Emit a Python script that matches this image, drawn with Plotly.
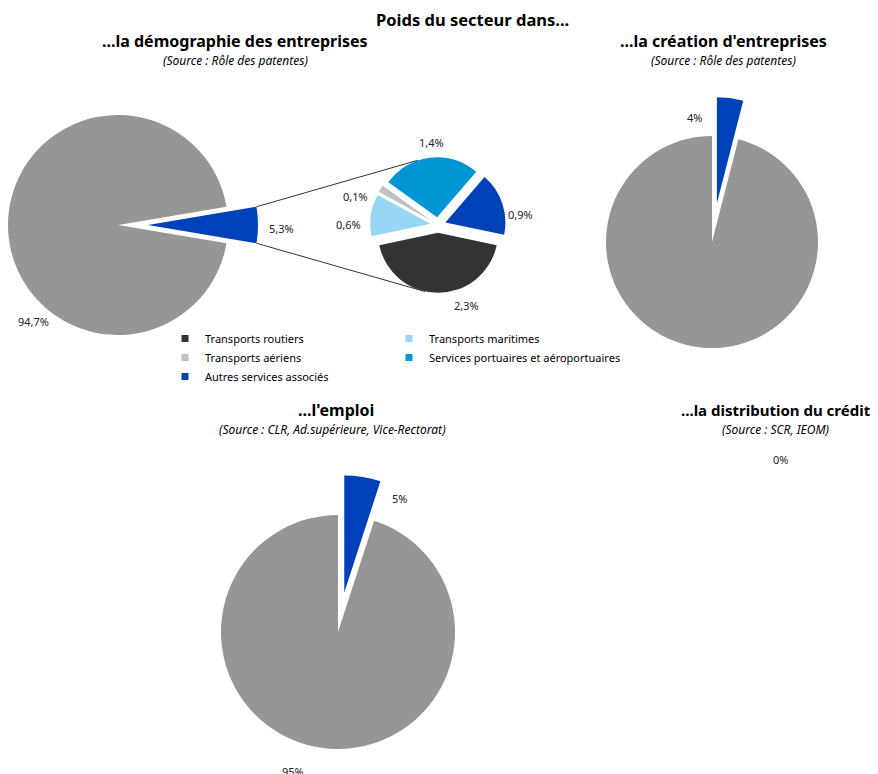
import math
import plotly.graph_objects as go

# page has an 8px body margin: work in page pixels, convert with OFF
OFF = 8
W, H = 870, 766

# ---------------- data ----------------
demo_labels = ["Transports et services associés", "Autres secteurs"]
demo_values = [5.3, 94.7]

detail_labels = ["Transports routiers", "Transports maritimes", "Transports aériens",
                 "Services portuaires et aéroportuaires", "Autres services associés"]
detail_values = [2.3, 0.6, 0.1, 1.4, 0.9]

creation_labels = ["Transports et services associés", "Autres secteurs"]
creation_values = [4, 96]

emploi_labels = ["Transports et services associés", "Autres secteurs"]
emploi_values = [5, 95]

credit_values = [0]

# ---------------- styles ----------------
GRAY = "#969696"
BLUE = "#0041B9"
DETAIL_COLORS = ["#333333", "#99D5F5", "#C0C0C0", "#0096D6", "#0041B9"]
CLEAR = "rgba(0,0,0,0)"
FONT = "Noto Sans"


def fx(px):
    return (px - OFF) / W


def fy(py):
    return 1 - (py - OFF) / H


def clamp(v):
    return min(1.0, max(0.0, v))


def px_domain(cx, cy, h):
    return dict(x=[clamp(fx(cx - h)), clamp(fx(cx + h))],
                y=[clamp(fy(cy + h)), clamp(fy(cy - h))])


def slice_mid(values, idx, rotation):
    tot = sum(values)
    start = rotation + sum(values[:idx]) / tot * 360
    return start + values[idx] / tot * 180


def slice_edges(values, idx, rotation):
    tot = sum(values)
    start = rotation + sum(values[:idx]) / tot * 360
    return start, start + values[idx] / tot * 360


def exploded_pie(labels, values, colors, idx, cx, cy, r, dist, rotation):
    mid = math.radians(slice_mid(values, idx, rotation))
    ecx = cx + dist * math.sin(mid)
    ecy = cy - dist * math.cos(mid)
    base_cols = [CLEAR if i == idx else c for i, c in enumerate(colors)]
    ex_cols = [c if i == idx else CLEAR for i, c in enumerate(colors)]
    common = dict(labels=labels, values=values, sort=False, direction="clockwise",
                  rotation=rotation, textinfo="none", showlegend=False, hoverinfo="skip")
    t1 = go.Pie(marker=dict(colors=base_cols, line=dict(width=0)),
                domain=px_domain(cx, cy, r), **common)
    t2 = go.Pie(marker=dict(colors=ex_cols, line=dict(width=0)),
                domain=px_domain(ecx, ecy, r), **common)
    return [t1, t2], (ecx, ecy)


def fmt1(v):
    return f"{v:.1f}".replace(".", ",") + "%"


def fmt0(v):
    return f"{v:.0f}%"


fig = go.Figure()

# ---- pie 1 : démographie (blue slice exploded to the east) ----
P1 = dict(cx=118, cy=225, r=110, dist=30)
rot1 = 90 - demo_values[0] / sum(demo_values) * 180
tr, (b1x, b1y) = exploded_pie(demo_labels, demo_values, [BLUE, GRAY], 0,
                              P1["cx"], P1["cy"], P1["r"], P1["dist"], rot1)
for t in tr:
    fig.add_trace(t)

# ---- pie 2 : detail of the 5.3% ----
P2 = dict(cx=438, cy=225, r=60, pull=0.13)
rot2 = 180 - detail_values[0] / sum(detail_values) * 180
h2 = P2["r"] * (1 + P2["pull"])
fig.add_trace(go.Pie(labels=detail_labels, values=detail_values, sort=False,
                     direction="clockwise", rotation=rot2,
                     pull=[P2["pull"]] * len(detail_values),
                     marker=dict(colors=DETAIL_COLORS, line=dict(width=0)),
                     textinfo="none", showlegend=False, hoverinfo="label+value",
                     domain=px_domain(P2["cx"], P2["cy"], h2)))

# ---- pie 3 : création ----
P3 = dict(cx=712, cy=242, r=106, dist=39)
tr, _ = exploded_pie(creation_labels, creation_values, [BLUE, GRAY], 0,
                     P3["cx"], P3["cy"], P3["r"], P3["dist"], 0)
for t in tr:
    fig.add_trace(t)

# ---- pie 4 : emploi ----
P4 = dict(cx=338, cy=632, r=117, dist=40)
tr, _ = exploded_pie(emploi_labels, emploi_values, [BLUE, GRAY], 0,
                     P4["cx"], P4["cy"], P4["r"], P4["dist"], 0)
for t in tr:
    fig.add_trace(t)

# ---- legend (two columns) ----
for i, (lab, col) in enumerate(zip(detail_labels, DETAIL_COLORS)):
    fig.add_trace(go.Scatter(x=[None], y=[None], mode="markers", name=lab,
                             marker=dict(symbol="square", size=7, color=col),
                             legend="legend" if i % 2 == 0 else "legend2",
                             showlegend=True, hoverinfo="skip"))

# ---- connector lines (pie of pie) ----
a_start, a_end = slice_edges(demo_values, 0, rot1)
R2 = P2["r"] * (1 + P2["pull"])
conn = [(a_start, 342.5), (a_end, 191.0)]
for a1, a2 in conn:
    x0 = b1x + P1["r"] * math.sin(math.radians(a1))
    y0 = b1y - P1["r"] * math.cos(math.radians(a1))
    x1 = P2["cx"] + R2 * math.sin(math.radians(a2))
    y1 = P2["cy"] - R2 * math.cos(math.radians(a2))
    fig.add_shape(type="line", xref="paper", yref="paper",
                  x0=fx(x0), y0=fy(y0), x1=fx(x1), y1=fy(y1),
                  line=dict(color="#333333", width=1))

# ---- annotations ----
ann = []


def txt(text, x, y, size=11, color="#222222"):
    ann.append(dict(text=text, x=fx(x), y=fy(y), xref="paper", yref="paper",
                    showarrow=False, xanchor="center", yanchor="middle",
                    font=dict(family=FONT, size=size, color=color)))


TS, SS = 16, 12
txt("<b>Poids du secteur dans...</b>", 473, 20, 16.5, "#000000")
txt("<b>...la démographie des entreprises</b>", 235, 41, TS, "#000000")
txt("<i>(Source : Rôle des patentes)</i>", 235, 60, SS, "#000000")
txt("<b>...la création d'entreprises</b>", 723, 41, TS, "#000000")
txt("<i>(Source : Rôle des patentes)</i>", 723, 60, SS, "#000000")
txt("<b>...l'emploi</b>", 336, 410, TS, "#000000")
txt("<i>(Source : CLR, Ad.supérieure, Vice-Rectorat)</i>", 332, 429, SS, "#000000")
txt("<b>...la distribution du crédit</b>", 776, 410, 15, "#000000")
txt("<i>(Source : SCR, IEOM)</i>", 775, 429, SS, "#000000")

# value labels (positions chosen to match the reference layout)
demo_label_pos = [(281, 228), (33, 322)]
detail_label_pos = [(466, 305), (348, 224), (355, 196), (431, 143), (520, 214)]
creation_label_pos = [(694, 118)]
emploi_label_pos = [(399, 498), (293, 771)]
credit_label_pos = [(780, 459)]

for v, (x, y) in zip(demo_values, demo_label_pos):
    txt(fmt1(v), x, y)
for v, (x, y) in zip(detail_values, detail_label_pos):
    txt(fmt1(v), x, y)
for v, (x, y) in zip(creation_values, creation_label_pos):
    txt(fmt0(v), x, y)
for v, (x, y) in zip(emploi_values, emploi_label_pos):
    txt(fmt0(v), x, y)
for v, (x, y) in zip(credit_values, credit_label_pos):
    txt(fmt0(v), x, y)

leg_common = dict(xanchor="left", yanchor="top", bgcolor=CLEAR, borderwidth=0,
                  font=dict(family=FONT, size=11, color="#000000"),
                  tracegroupgap=0, itemwidth=30, orientation="v")

fig.update_layout(
    width=W, height=H,
    margin=dict(l=0, r=0, t=0, b=0),
    paper_bgcolor="white", plot_bgcolor="white",
    xaxis=dict(visible=False), yaxis=dict(visible=False),
    annotations=ann,
    legend=dict(x=fx(165), y=fy(324), **leg_common),
    legend2=dict(x=fx(389), y=fy(324), **leg_common),
    font=dict(family=FONT),
)

fig.write_html("out.html")
